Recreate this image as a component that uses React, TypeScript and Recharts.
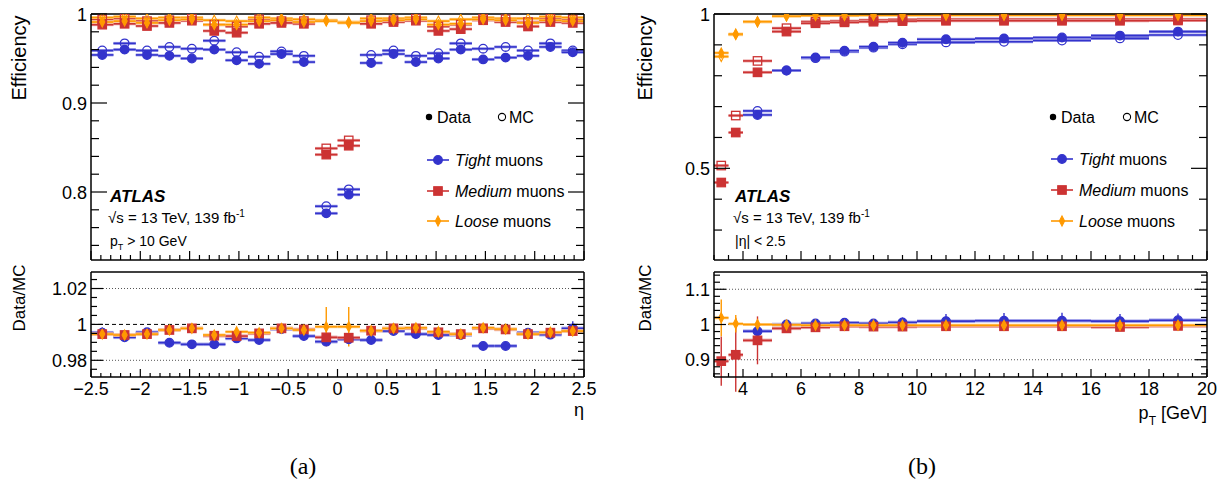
import React from 'react';
import { ComposedChart, Scatter, XAxis, YAxis, ErrorBar, ReferenceLine } from 'recharts';

const BLUE = '#3333cc';
const RED = '#cc3333';
const ORANGE = '#ff9900';
const BLUE_L = '#a3a3ea';
const RED_L = '#eaa3a3';
const ORANGE_L = '#ffd08a';
const FONT = '"Liberation Sans", Arial, Helvetica, sans-serif';
const SERIF = '"Liberation Serif", "DejaVu Serif", serif';

// ---------- (a) efficiency vs eta ----------
const etaBins = [-2.386, -2.159, -1.932, -1.705, -1.477, -1.25, -1.023, -0.795, -0.568, -0.341, -0.114,
  0.114, 0.341, 0.568, 0.795, 1.023, 1.25, 1.477, 1.705, 1.932, 2.159, 2.386];
const etaHalfWidth = 0.1136;

const tightDataA = [0.954, 0.960, 0.954, 0.953, 0.950, 0.960, 0.948, 0.944, 0.955, 0.946, 0.776,
  0.797, 0.945, 0.955, 0.946, 0.950, 0.960, 0.949, 0.951, 0.953, 0.963, 0.957];
const tightMcA = [0.959, 0.967, 0.959, 0.963, 0.961, 0.970, 0.957, 0.952, 0.958, 0.953, 0.784,
  0.803, 0.954, 0.959, 0.953, 0.956, 0.967, 0.961, 0.963, 0.959, 0.967, 0.959];
const mediumDataA = [0.988, 0.989, 0.9865, 0.990, 0.9925, 0.981, 0.979, 0.989, 0.990, 0.989, 0.842,
  0.852, 0.989, 0.991, 0.9925, 0.981, 0.983, 0.993, 0.991, 0.986, 0.991, 0.990];
const mediumMcA = [0.994, 0.995, 0.992, 0.993, 0.995, 0.988, 0.986, 0.994, 0.992, 0.992, 0.849,
  0.858, 0.993, 0.993, 0.995, 0.986, 0.988, 0.995, 0.994, 0.991, 0.995, 0.994];
const looseDataA = [0.991, 0.992, 0.990, 0.993, 0.994, 0.988, 0.988, 0.992, 0.993, 0.991, 0.992,
  0.990, 0.992, 0.993, 0.994, 0.988, 0.989, 0.994, 0.993, 0.990, 0.993, 0.992];
const looseMcA = [0.996, 0.997, 0.995, 0.996, 0.996, 0.993, 0.992, 0.996, 0.995, 0.994, 0.993,
  0.991, 0.995, 0.995, 0.996, 0.992, 0.994, 0.996, 0.995, 0.995, 0.997, 0.996];

const tightRatioA = [0.9954, 0.9928, 0.9956, 0.9898, 0.9889, 0.9889, 0.9922, 0.9913, 0.9974, 0.9935, 0.9904,
  0.9917, 0.9913, 0.9963, 0.9946, 0.9941, 0.9941, 0.988, 0.988, 0.9954, 0.9943, 0.9978];
const tightRatioErrA = [0.003, 0.0008, 0.0008, 0.0008, 0.0008, 0.0008, 0.0008, 0.0008, 0.0008, 0.0008, 0.001,
  0.001, 0.0008, 0.0008, 0.0008, 0.0008, 0.0008, 0.0008, 0.0008, 0.0008, 0.0008, 0.004];
const mediumRatioA = [0.9946, 0.9941, 0.9946, 0.9969, 0.9978, 0.9937, 0.9935, 0.995, 0.9978, 0.9972, 0.9928,
  0.9926, 0.9965, 0.9978, 0.9978, 0.9956, 0.9946, 0.9978, 0.9972, 0.9946, 0.9954, 0.9963];
const mediumRatioErrA = [0.0015, 0.0008, 0.0008, 0.0008, 0.0008, 0.0008, 0.0008, 0.0008, 0.0008, 0.0008, 0.001,
  0.001, 0.0008, 0.0008, 0.0008, 0.0008, 0.0008, 0.0008, 0.0008, 0.0008, 0.0008, 0.0015];
const looseRatioA = [0.9946, 0.9941, 0.9946, 0.9969, 0.9978, 0.9941, 0.9959, 0.9954, 0.9978, 0.9969, 0.9987,
  0.9987, 0.9965, 0.9978, 0.9981, 0.9959, 0.9946, 0.9981, 0.9974, 0.9946, 0.9956, 0.9963];
const looseRatioErrA = [0.0015, 0.0008, 0.0008, 0.0008, 0.0008, 0.0008, 0.0008, 0.0008, 0.0008, 0.0008, 0.011,
  0.011, 0.0008, 0.0008, 0.0008, 0.0008, 0.0008, 0.0008, 0.0008, 0.0008, 0.0008, 0.0015];

// ---------- (b) efficiency vs pT ----------
const ptBins = [3.25, 3.75, 4.5, 5.5, 6.5, 7.5, 8.5, 9.5, 11, 13, 15, 17, 19];
const ptHalfWidths = [0.25, 0.25, 0.5, 0.5, 0.5, 0.5, 0.5, 0.5, 1, 1, 1, 1, 1];

const tightDataB = [null, null, 0.673, 0.817, 0.859, 0.881, 0.894, 0.907, 0.918, 0.921, 0.924, 0.930, 0.943];
const tightMcB = [null, null, 0.686, 0.817, 0.857, 0.878, 0.891, 0.902, 0.908, 0.910, 0.914, 0.921, 0.932];
const mediumDataB = [0.454, 0.616, 0.811, 0.943, 0.970, 0.973, 0.975, 0.977, 0.978, 0.978, 0.978, 0.978, 0.979];
const mediumMcB = [0.509, 0.671, 0.848, 0.954, 0.975, 0.977, 0.980, 0.982, 0.983, 0.983, 0.983, 0.983, 0.983];
const looseDataB = [0.874, 0.935, 0.975, 0.993, 0.995, 0.995, 0.996, 0.996, 0.996, 0.996, 0.996, 0.996, 0.996];
const looseMcB = [0.862, 0.933, 0.975, 0.994, 0.997, 0.997, 0.998, 0.998, 0.998, 0.998, 0.998, 0.998, 0.998];

const tightRatioB = [null, null, 0.981, 1.0, 1.003, 1.005, 1.003, 1.006, 1.0095, 1.0105, 1.0105, 1.0095, 1.012];
const tightRatioErrB = [0, 0, 0.004, 0.004, 0.006, 0.008, 0.008, 0.014, 0.02, 0.022, 0.023, 0.02, 0.019];
const mediumRatioB = [0.896, 0.914, 0.955, 0.989, 0.992, 0.995, 0.994, 0.994, 0.995, 0.995, 0.995, 0.993, 0.996];
const mediumRatioErrB = [0.07, 0.105, 0.068, 0.012, 0.005, 0.005, 0.004, 0.004, 0.004, 0.004, 0.004, 0.004, 0.004];
const looseRatioB = [1.019, 1.002, 1.0, 0.999, 0.998, 0.998, 0.998, 0.998, 0.998, 0.998, 0.998, 0.998, 0.998];
const looseRatioErrB = [0.052, 0.025, 0.01, 0.003, 0.002, 0.002, 0.002, 0.002, 0.002, 0.002, 0.002, 0.002, 0.002];

// axis tick labels
const etaMajor = [-2.5, -2, -1.5, -1, -0.5, 0, 0.5, 1, 1.5, 2, 2.5];
const ptMajor = [4, 6, 8, 10, 12, 14, 16, 18, 20];
const effMajorA = [0.8, 0.9, 1];
const ratioMajorA = [0.98, 1, 1.02];
const effMajorB = [0.5, 1];
const ratioMajorB = [0.9, 1, 1.1];

const range = (a: number, b: number, step: number) => {
  const out: number[] = [];
  for (let v = a; v <= b + step / 1000; v += step) out.push(Math.round(v * 10000) / 10000);
  return out;
};

const pts = (xs: number[], ys: (number | null)[], ex: number | number[], ey?: number[]) =>
  xs
    .map((x, i) => ({ x, y: ys[i], ex: Array.isArray(ex) ? ex[i] : ex, ey: ey ? ey[i] : 0 }))
    .filter((p) => p.y != null);

type Kind = 'circle' | 'square' | 'diamond';

const marker = (kind: Kind, color: string, filled: boolean) => (p: any) => {
  const { cx, cy } = p;
  if (cx == null || cy == null) return <g />;
  const fill = filled ? color : 'none';
  if (kind === 'circle') return <circle cx={cx} cy={cy} r={4.3} fill={fill} stroke={color} strokeWidth={1.3} />;
  if (kind === 'square') return <rect x={cx - 4.2} y={cy - 4.2} width={8.4} height={8.4} fill={fill} stroke={color} strokeWidth={1.3} />;
  return (
    <path d={`M${cx},${cy - 5}L${cx + 2.6},${cy}L${cx},${cy + 5}L${cx - 2.6},${cy}Z`} fill={fill} stroke={color} strokeWidth={1.1} />
  );
};

function series(key: string, data: any[], kind: Kind, color: string, light: string, filled: boolean, yErr: boolean, band: number) {
  return (
    <Scatter key={key} data={data} dataKey="y" isAnimationActive={false} shape={marker(kind, color, filled)}>
      <ErrorBar dataKey="ex" direction="x" width={0} stroke={light} strokeWidth={band} />
      <ErrorBar dataKey="ex" direction="x" width={0} stroke={color} strokeWidth={1.6} />
      {yErr ? <ErrorBar dataKey="ey" direction="y" width={0} stroke={color} strokeWidth={1.4} /> : null}
    </Scatter>
  );
}

const near = (list: number[], v: number) => list.some((m) => Math.abs(m - v) < 1e-6);

const fmtNum = (v: number) => {
  const s = String(Math.round(Math.abs(v) * 1000) / 1000);
  return v < -1e-9 ? '\u2212' + s : s;
};

const tickFn = (side: 'left' | 'right' | 'top' | 'bottom', majors: number[], label: boolean, majorLen: number, minorLen: number) =>
  (p: any) => {
    const v = Number(p.payload.value);
    const major = near(majors, v);
    const L = major ? majorLen : minorLen;
    const { x, y } = p;
    let c = [x, y, x, y];
    if (side === 'left') c = [x, y, x + L, y];
    if (side === 'right') c = [x, y, x - L, y];
    if (side === 'bottom') c = [x, y, x, y - L];
    if (side === 'top') c = [x, y, x, y + L];
    return (
      <g>
        <line x1={c[0]} y1={c[1]} x2={c[2]} y2={c[3]} stroke="#000" strokeWidth={1.2} />
        {label && major && side === 'left' ? (
          <text x={x - 4} y={y + 6.5} textAnchor="end" fontSize={18} fontFamily={FONT} fill="#000">{fmtNum(v)}</text>
        ) : null}
        {label && major && side === 'bottom' ? (
          <text x={x} y={y + 18} textAnchor="middle" fontSize={18} fontFamily={FONT} fill="#000">{fmtNum(v)}</text>
        ) : null}
      </g>
    );
  };

const AX = 10;
const axisLine = { stroke: '#000', strokeWidth: 1.5 };

interface FrameProps {
  box: { L: number; T: number; W: number; H: number };
  plot: { x0: number; x1: number; y0: number; y1: number };
  xDomain: number[];
  yDomain: number[];
  xTicks: number[];
  xMajor: number[];
  xLabels: boolean;
  xLen: number[];
  yTicks: number[];
  yMajor: number[];
  yLen: number[];
  children?: React.ReactNode;
}

function Frame({ box, plot, xDomain, yDomain, xTicks, xMajor, xLabels, xLen, yTicks, yMajor, yLen, children }: FrameProps) {
  const margin = {
    left: plot.x0 - box.L - AX,
    right: box.L + box.W - plot.x1 - AX,
    top: plot.y0 - box.T - AX,
    bottom: box.T + box.H - plot.y1 - AX,
  };
  return (
    <div style={{ position: 'absolute', left: box.L, top: box.T, width: box.W, height: box.H }}>
      <ComposedChart width={box.W} height={box.H} margin={margin}>
        <XAxis xAxisId={0} dataKey="x" type="number" domain={xDomain} allowDataOverflow ticks={xTicks} interval={0}
          tickSize={0} tickMargin={0} height={AX} axisLine={axisLine} tickLine={false}
          tick={tickFn('bottom', xMajor, xLabels, xLen[0], xLen[1])} />
        <XAxis xAxisId="top" orientation="top" type="number" domain={xDomain} allowDataOverflow ticks={xTicks} interval={0}
          tickSize={0} tickMargin={0} height={AX} axisLine={axisLine} tickLine={false}
          tick={tickFn('top', xMajor, false, xLen[0], xLen[1])} />
        <YAxis yAxisId={0} dataKey="y" type="number" domain={yDomain} allowDataOverflow ticks={yTicks} interval={0}
          tickSize={0} tickMargin={0} width={AX} axisLine={axisLine} tickLine={false}
          tick={tickFn('left', yMajor, true, yLen[0], yLen[1])} />
        <YAxis yAxisId="right" orientation="right" type="number" domain={yDomain} allowDataOverflow ticks={yTicks} interval={0}
          tickSize={0} tickMargin={0} width={AX} axisLine={axisLine} tickLine={false}
          tick={tickFn('right', yMajor, false, yLen[0], yLen[1])} />
        {children}
      </ComposedChart>
    </div>
  );
}

function LegendRow({ x, y, color, kind, word }: { x: number; y: number; color: string; kind: Kind; word: string }) {
  const m = marker(kind, color, true)({ cx: x + 11, cy: y });
  return (
    <g>
      <line x1={x} x2={x + 22} y1={y} y2={y} stroke={color} strokeWidth={1.6} />
      {m}
      <text x={x + 28} y={y + 6} fontSize={16} fontFamily={FONT} fill="#000">
        <tspan fontStyle="italic">{word}</tspan> muons
      </text>
    </g>
  );
}

function Overlay() {
  const t = { fontFamily: FONT, fill: '#000' };
  return (
    <svg width={1228} height={486} style={{ position: 'absolute', left: 0, top: 0, pointerEvents: 'none' }}>
      {/* axis titles */}
      <text transform="translate(26,58) rotate(-90)" textAnchor="middle" fontSize={20} {...t}>Efficiency</text>
      <text transform="translate(652,58) rotate(-90)" textAnchor="middle" fontSize={20} {...t}>Efficiency</text>
      <text transform="translate(25,298) rotate(-90)" textAnchor="middle" fontSize={17} {...t}>Data/MC</text>
      <text transform="translate(651,298) rotate(-90)" textAnchor="middle" fontSize={17} {...t}>Data/MC</text>
      <text x={584} y={416} textAnchor="end" fontSize={18} {...t}>η</text>
      <text x={1207} y={419} textAnchor="end" fontSize={18} {...t}>
        p<tspan fontSize={12} dy={6}>T</tspan><tspan dy={-6}> [GeV]</tspan>
      </text>
      <text x={303} y={474} textAnchor="middle" fontSize={24} fontFamily={SERIF} fill="#000">(a)</text>
      <text x={922} y={474} textAnchor="middle" fontSize={24} fontFamily={SERIF} fill="#000">(b)</text>

      {/* ATLAS labels */}
      <text x={110} y={202} fontSize={17} fontWeight="bold" fontStyle="italic" {...t}>ATLAS</text>
      <text x={108} y={223} fontSize={15} {...t}>√s = 13 TeV, 139 fb<tspan fontSize={10} dy={-6}>-1</tspan></text>
      <text x={110} y={246} fontSize={14} {...t}>p<tspan fontSize={9} dy={4}>T</tspan><tspan dy={-4}> &gt; 10 GeV</tspan></text>
      <text x={735} y={202} fontSize={17} fontWeight="bold" fontStyle="italic" {...t}>ATLAS</text>
      <text x={733} y={223} fontSize={15} {...t}>√s = 13 TeV, 139 fb<tspan fontSize={10} dy={-6}>-1</tspan></text>
      <text x={735} y={246} fontSize={14} {...t}>|η| &lt; 2.5</text>

      {/* legends */}
      <circle cx={429} cy={117} r={3.2} fill="#000" />
      <text x={437} y={123} fontSize={16} {...t}>Data</text>
      <circle cx={502} cy={117} r={3.6} fill="none" stroke="#000" strokeWidth={1.1} />
      <text x={509} y={123} fontSize={16} {...t}>MC</text>
      <LegendRow x={427} y={160} color={BLUE} kind="circle" word="Tight" />
      <LegendRow x={427} y={191} color={RED} kind="square" word="Medium" />
      <LegendRow x={427} y={221} color={ORANGE} kind="diamond" word="Loose" />

      <circle cx={1053} cy={117} r={3.2} fill="#000" />
      <text x={1061} y={123} fontSize={16} {...t}>Data</text>
      <circle cx={1127} cy={117} r={3.6} fill="none" stroke="#000" strokeWidth={1.1} />
      <text x={1134} y={123} fontSize={16} {...t}>MC</text>
      <LegendRow x={1051} y={159} color={BLUE} kind="circle" word="Tight" />
      <LegendRow x={1051} y={190} color={RED} kind="square" word="Medium" />
      <LegendRow x={1051} y={221} color={ORANGE} kind="diamond" word="Loose" />
    </svg>
  );
}

export default function App() {
  const etaTicks = range(-2.5, 2.5, 0.1);
  const ptTicks = range(3, 20, 0.5);
  return (
    <div style={{ position: 'absolute', left: 0, top: 0, width: 1228, height: 486, background: '#fff', overflow: 'hidden' }}>
      {/* (a) efficiency */}
      <Frame box={{ L: 0, T: 0, W: 614, H: 266 }} plot={{ x0: 91, x1: 584, y0: 14, y1: 260 }}
        xDomain={[-2.5, 2.5]} yDomain={[0.7236, 1]} xTicks={etaTicks} xMajor={etaMajor} xLabels={false} xLen={[9, 5]}
        yTicks={range(0.74, 1, 0.02)} yMajor={effMajorA} yLen={[16, 8]}>
        {series('tmc', pts(etaBins, tightMcA, etaHalfWidth), 'circle', BLUE, BLUE_L, false, false, 3)}
        {series('td', pts(etaBins, tightDataA, etaHalfWidth), 'circle', BLUE, BLUE_L, true, false, 3)}
        {series('mmc', pts(etaBins, mediumMcA, etaHalfWidth), 'square', RED, RED_L, false, false, 3)}
        {series('md', pts(etaBins, mediumDataA, etaHalfWidth), 'square', RED, RED_L, true, false, 3)}
        {series('lmc', pts(etaBins, looseMcA, etaHalfWidth), 'diamond', ORANGE, ORANGE_L, false, false, 3)}
        {series('ld', pts(etaBins, looseDataA, etaHalfWidth), 'diamond', ORANGE, ORANGE_L, true, false, 3)}
      </Frame>
      {/* (a) ratio */}
      <Frame box={{ L: 0, T: 262, W: 614, H: 150 }} plot={{ x0: 91, x1: 584, y0: 272, y1: 377 }}
        xDomain={[-2.5, 2.5]} yDomain={[0.9707, 1.0292]} xTicks={etaTicks} xMajor={etaMajor} xLabels={true} xLen={[8, 4]}
        yTicks={range(0.975, 1.025, 0.005)} yMajor={ratioMajorA} yLen={[12, 6]}>
        <ReferenceLine y={1.02} stroke="#555" strokeDasharray="1 2" />
        <ReferenceLine y={0.98} stroke="#555" strokeDasharray="1 2" />
        <ReferenceLine y={1} stroke="#000" strokeDasharray="4 3" />
        {series('tr', pts(etaBins, tightRatioA, etaHalfWidth, tightRatioErrA), 'circle', BLUE, BLUE_L, true, true, 3.5)}
        {series('mr', pts(etaBins, mediumRatioA, etaHalfWidth, mediumRatioErrA), 'square', RED, RED_L, true, true, 3.5)}
        {series('lr', pts(etaBins, looseRatioA, etaHalfWidth, looseRatioErrA), 'diamond', ORANGE, ORANGE_L, true, true, 3)}
      </Frame>

      {/* (b) efficiency */}
      <Frame box={{ L: 614, T: 0, W: 614, H: 266 }} plot={{ x0: 714, x1: 1207, y0: 14, y1: 260 }}
        xDomain={[3, 20]} yDomain={[0.203, 1]} xTicks={ptTicks} xMajor={ptMajor} xLabels={false} xLen={[9, 5]}
        yTicks={range(0.3, 1, 0.1)} yMajor={effMajorB} yLen={[16, 8]}>
        {series('tmc', pts(ptBins, tightMcB, ptHalfWidths), 'circle', BLUE, BLUE_L, false, false, 3)}
        {series('td', pts(ptBins, tightDataB, ptHalfWidths), 'circle', BLUE, BLUE_L, true, false, 3)}
        {series('mmc', pts(ptBins, mediumMcB, ptHalfWidths), 'square', RED, RED_L, false, false, 3)}
        {series('md', pts(ptBins, mediumDataB, ptHalfWidths), 'square', RED, RED_L, true, false, 3)}
        {series('lmc', pts(ptBins, looseMcB, ptHalfWidths), 'diamond', ORANGE, ORANGE_L, false, false, 3)}
        {series('ld', pts(ptBins, looseDataB, ptHalfWidths), 'diamond', ORANGE, ORANGE_L, true, false, 3)}
      </Frame>
      {/* (b) ratio */}
      <Frame box={{ L: 614, T: 262, W: 614, H: 150 }} plot={{ x0: 714, x1: 1207, y0: 272, y1: 377 }}
        xDomain={[3, 20]} yDomain={[0.851, 1.149]} xTicks={ptTicks} xMajor={ptMajor} xLabels={true} xLen={[8, 4]}
        yTicks={range(0.86, 1.14, 0.02)} yMajor={ratioMajorB} yLen={[12, 6]}>
        <ReferenceLine y={1.1} stroke="#555" strokeDasharray="1 2" />
        <ReferenceLine y={0.9} stroke="#555" strokeDasharray="1 2" />
        <ReferenceLine y={1} stroke="#000" strokeDasharray="4 3" />
        {series('tr', pts(ptBins, tightRatioB, ptHalfWidths, tightRatioErrB), 'circle', BLUE, BLUE_L, true, true, 3.5)}
        {series('mr', pts(ptBins, mediumRatioB, ptHalfWidths, mediumRatioErrB), 'square', RED, RED_L, true, true, 3.5)}
        {series('lr', pts(ptBins, looseRatioB, ptHalfWidths, looseRatioErrB), 'diamond', ORANGE, ORANGE_L, true, true, 3)}
      </Frame>
      <Overlay />
    </div>
  );
}
